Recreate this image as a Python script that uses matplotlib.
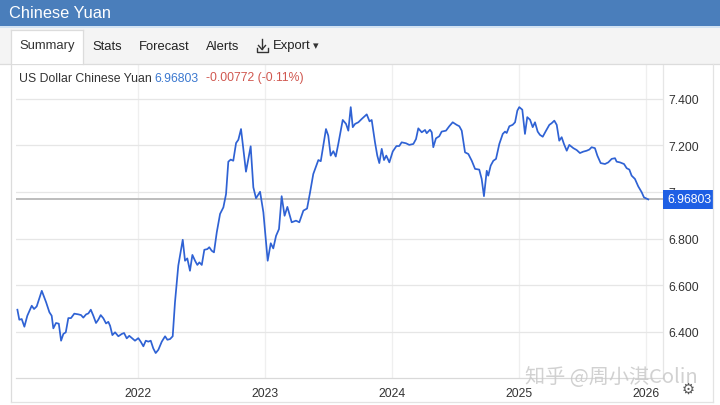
import matplotlib
matplotlib.use("Agg")
import matplotlib.pyplot as plt
from matplotlib.patches import Rectangle
from matplotlib.lines import Line2D
import matplotlib.transforms as mtransforms

# ---------------- data ----------------
years = [
    2021.050, 2021.065, 2021.084, 2021.105, 2021.128, 2021.163, 2021.181, 2021.202, 2021.242, 2021.276,
    2021.302, 2021.320, 2021.333, 2021.354, 2021.376, 2021.394, 2021.412, 2021.431, 2021.451, 2021.472,
    2021.498, 2021.530, 2021.551, 2021.569, 2021.591, 2021.609, 2021.628, 2021.648, 2021.669, 2021.687,
    2021.706, 2021.727, 2021.748, 2021.766, 2021.780, 2021.798, 2021.819, 2021.845, 2021.872, 2021.890,
    2021.911, 2021.931, 2021.955, 2021.976, 2022.002, 2022.021, 2022.042, 2022.061, 2022.081, 2022.100,
    2022.120, 2022.139, 2022.160, 2022.187, 2022.213, 2022.231, 2022.252, 2022.273, 2022.291, 2022.317,
    2022.352, 2022.370, 2022.388, 2022.409, 2022.428, 2022.449, 2022.467, 2022.483, 2022.502, 2022.522,
    2022.546, 2022.561, 2022.580, 2022.598, 2022.620, 2022.646, 2022.672, 2022.693, 2022.711, 2022.730,
    2022.750, 2022.772, 2022.790, 2022.811, 2022.850, 2022.887, 2022.908, 2022.929, 2022.961, 2022.987,
    2023.021, 2023.045, 2023.065, 2023.087, 2023.110, 2023.131, 2023.154, 2023.176, 2023.210, 2023.244,
    2023.270, 2023.302, 2023.331, 2023.354, 2023.380, 2023.420, 2023.439, 2023.480, 2023.498, 2023.517,
    2023.538, 2023.557, 2023.577, 2023.612, 2023.638, 2023.656, 2023.675, 2023.691, 2023.709, 2023.735,
    2023.761, 2023.801, 2023.823, 2023.840, 2023.866, 2023.884, 2023.900, 2023.919, 2023.937, 2023.955,
    2023.979, 2024.006, 2024.035, 2024.057, 2024.076, 2024.110, 2024.136, 2024.168, 2024.189, 2024.207,
    2024.234, 2024.260, 2024.273, 2024.299, 2024.313, 2024.325, 2024.346, 2024.372, 2024.391, 2024.425,
    2024.451, 2024.478, 2024.509, 2024.530, 2024.549, 2024.575, 2024.601, 2024.628, 2024.654, 2024.687,
    2024.706, 2024.724, 2024.746, 2024.758, 2024.777, 2024.798, 2024.819, 2024.845, 2024.872, 2024.890,
    2024.903, 2024.924, 2024.950, 2024.969, 2024.987, 2025.002, 2025.026, 2025.047, 2025.065, 2025.087,
    2025.108, 2025.126, 2025.147, 2025.165, 2025.187, 2025.213, 2025.239, 2025.257, 2025.278, 2025.297,
    2025.317, 2025.336, 2025.354, 2025.376, 2025.396, 2025.428, 2025.454, 2025.480, 2025.506, 2025.533,
    2025.554, 2025.572, 2025.598, 2025.617, 2025.643, 2025.677, 2025.703, 2025.730, 2025.756, 2025.769,
    2025.795, 2025.827, 2025.848, 2025.869, 2025.887, 2025.913, 2025.939, 2025.966, 2025.984, 2026.000,
    2026.018,
]
rates = [
    6.495, 6.452, 6.455, 6.422, 6.469, 6.512, 6.498, 6.509, 6.576, 6.527,
    6.484, 6.469, 6.415, 6.438, 6.435, 6.362, 6.391, 6.398, 6.459, 6.459,
    6.478, 6.475, 6.472, 6.461, 6.475, 6.479, 6.495, 6.469, 6.438, 6.452,
    6.472, 6.458, 6.436, 6.443, 6.426, 6.386, 6.398, 6.381, 6.391, 6.395,
    6.372, 6.383, 6.372, 6.362, 6.373, 6.358, 6.338, 6.362, 6.358, 6.362,
    6.329, 6.309, 6.323, 6.358, 6.381, 6.366, 6.369, 6.381, 6.527, 6.684,
    6.795, 6.705, 6.715, 6.662, 6.730, 6.705, 6.687, 6.698, 6.687, 6.752,
    6.755, 6.763, 6.748, 6.741, 6.827, 6.906, 6.934, 6.991, 7.130, 7.139,
    7.134, 7.210, 7.224, 7.270, 7.087, 7.196, 7.020, 6.973, 7.001, 6.913,
    6.705, 6.780, 6.758, 6.812, 6.841, 6.982, 6.898, 6.936, 6.870, 6.877,
    6.870, 6.920, 6.929, 6.996, 7.077, 7.137, 7.132, 7.270, 7.242, 7.156,
    7.175, 7.152, 7.206, 7.309, 7.292, 7.263, 7.364, 7.278, 7.292, 7.299,
    7.313, 7.333, 7.303, 7.309, 7.213, 7.156, 7.124, 7.185, 7.137, 7.156,
    7.127, 7.174, 7.197, 7.197, 7.213, 7.209, 7.202, 7.206, 7.227, 7.273,
    7.256, 7.266, 7.252, 7.267, 7.256, 7.192, 7.230, 7.239, 7.259, 7.263,
    7.282, 7.299, 7.288, 7.282, 7.263, 7.170, 7.163, 7.134, 7.099, 7.096,
    7.056, 6.982, 7.091, 7.070, 7.113, 7.134, 7.142, 7.206, 7.249, 7.259,
    7.253, 7.282, 7.288, 7.299, 7.349, 7.364, 7.353, 7.249, 7.321, 7.310,
    7.278, 7.299, 7.259, 7.245, 7.237, 7.263, 7.288, 7.295, 7.306, 7.288,
    7.220, 7.235, 7.206, 7.177, 7.202, 7.188, 7.180, 7.167, 7.173, 7.177,
    7.182, 7.192, 7.188, 7.156, 7.124, 7.120, 7.127, 7.142, 7.145, 7.130,
    7.127, 7.120, 7.102, 7.096, 7.070, 7.056, 7.024, 6.999, 6.977, 6.973,
    6.96803,
]
last_value = 6.96803
last_label = "6.96803"
change_label = "-0.00772 (-0.11%)"
year_ticks = [2022, 2023, 2024, 2025, 2026]
year_labels = ["2022", "2023", "2024", "2025", "2026"]
y_ticks = [6.4, 6.6, 6.8, 7.0, 7.2, 7.4]
y_labels = ["6.400", "6.600", "6.800", "7", "7.200", "7.400"]
title = "Chinese Yuan"
tabs = ["Summary", "Stats", "Forecast", "Alerts", "Export"]
series_name = "US Dollar Chinese Yuan"
watermark = "知乎 @周小淇Colin"

# ---------------- figure ----------------
W, H = 720, 406
plt.rcParams['font.family'] = ['Liberation Sans', 'DejaVu Sans']
fig = plt.figure(figsize=(W / 100, H / 100), dpi=100)
fig.patch.set_facecolor('white')


def fx(x):
    return x / W


def fy(y):
    return 1 - y / H


def rect(x0, y0, x1, y1, color, **kw):
    fig.patches.append(Rectangle((fx(x0), fy(y1)), fx(x1) - fx(x0), fy(y0) - fy(y1),
                                 transform=fig.transFigure, facecolor=color,
                                 edgecolor='none', zorder=kw.pop('zorder', 0), **kw))


def hline(x0, x1, y, color, lw=0.8, z=1):
    fig.lines.append(Line2D([fx(x0), fx(x1)], [fy(y), fy(y)], transform=fig.transFigure,
                            color=color, lw=lw, zorder=z))


def vline(x, y0, y1, color, lw=0.8, z=1):
    fig.lines.append(Line2D([fx(x), fx(x)], [fy(y0), fy(y1)], transform=fig.transFigure,
                            color=color, lw=lw, zorder=z))


# header bar
rect(0, 0, 720, 27, '#4a7ebb')
rect(0, 27, 720, 29, '#d3e3f3')
fig.text(fx(9), fy(13), title, color='white', fontsize=11.8, va='center', ha='left')

# tab bar
rect(0, 29, 720, 64.5, '#f4f4f4')
hline(0, 720, 64.5, '#dcdcdc', lw=0.9)
rect(10.5, 31, 83, 65.2, 'white', zorder=2)
vline(10.5, 31, 403, '#dcdcdc', lw=0.9, z=3)
vline(83, 31, 64.5, '#dcdcdc', lw=0.9, z=3)
hline(10.5, 83, 31, '#dcdcdc', lw=0.9, z=3)
vline(713, 65, 403, '#e3e3e3', lw=0.9, z=3)
hline(10.5, 713, 403, '#e3e3e3', lw=0.9, z=3)

tab_x = [19, 92, 139, 206, 273]
for t, x in zip(tabs, tab_x):
    fig.text(fx(x), fy(46.5), t, color='#333333' if t == 'Summary' else '#222222',
             fontsize=9.4, va='center', ha='left', zorder=5)
# export icon (download arrow + tray) and caret
ic = '#333333'
vline(262, 40, 50, ic, lw=1.0, z=5)
fig.lines.append(Line2D([fx(258.5), fx(262), fx(265.5)], [fy(46.5), fy(50.5), fy(46.5)],
                        transform=fig.transFigure, color=ic, lw=1.0, zorder=5))
fig.lines.append(Line2D([fx(256.5), fx(256.5), fx(267.5), fx(267.5)],
                        [fy(49), fy(52.5), fy(52.5), fy(49)],
                        transform=fig.transFigure, color=ic, lw=1.0, zorder=5))
fig.text(fx(313), fy(46), "▾", color=ic, fontsize=8, va='center', ha='left',
         family=['DejaVu Sans'], zorder=5)

# subtitle
fig.text(fx(19), fy(78.5), series_name, color='#333333', fontsize=8.8, va='center', ha='left')
fig.text(fx(154), fy(78.5), last_label, color='#3b78cf', fontsize=8.8, va='center', ha='left')
fig.text(fx(206), fy(78.5), change_label, color='#d0574f', fontsize=8.8, va='center', ha='left')

# ---------------- plot axes ----------------
left, right, top, bottom = 16, 663, 65, 379
ax = fig.add_axes([fx(left), fy(bottom), fx(right) - fx(left), fy(top) - fy(bottom)])
ax.set_facecolor('none')
ax.set_xlim(2021.039, 2026.134)
ax.set_ylim(6.202, 7.549)

ax.plot(years, rates, color='#2f62d4', lw=1.25, zorder=4, solid_joinstyle='round')
ax.axhline(last_value, color='#b8b8b8', lw=1.3, zorder=3)

ax.set_xticks(year_ticks)
ax.set_xticklabels(year_labels)
ax.set_yticks(y_ticks)
ax.set_yticklabels(y_labels)
ax.yaxis.tick_right()
ax.tick_params(axis='both', length=0, labelsize=8.8, labelcolor='#333333')
ax.tick_params(axis='y', pad=3.6)
ax.tick_params(axis='x', pad=6.5)
ax.grid(axis='y', color='#e6e6e6', lw=0.9, zorder=0)
ax.grid(axis='x', color='#efefef', lw=0.9, zorder=0)
for s in ['top', 'left']:
    ax.spines[s].set_visible(False)
ax.spines['bottom'].set_color('#d9d9d9')
ax.spines['bottom'].set_linewidth(0.9)
ax.spines['right'].set_color('#e6e6e6')
ax.spines['right'].set_linewidth(0.9)

# last price box
blend = mtransforms.blended_transform_factory(ax.transAxes, ax.transData)
ax.annotate(last_label, xy=(1.0, last_value), xycoords=blend, xytext=(2.8, 0),
            textcoords='offset points', ha='left', va='center', color='white',
            fontsize=8.8, zorder=10, annotation_clip=False,
            bbox=dict(boxstyle='square,pad=0.28', fc='#1e5fe4', ec='none'))

# gear icon
fig.text(fx(688), fy(389), "⚙", color='#555555', fontsize=10.5, va='center', ha='center',
         family=['DejaVu Sans'])

# watermark
fig.text(fx(611), fy(378), watermark, color='#c9c9c9', alpha=0.85, fontsize=14.5,
         va='center', ha='center', family=['Noto Sans CJK SC', 'DejaVu Sans'], zorder=20)

fig.savefig('out.png', dpi=100)
